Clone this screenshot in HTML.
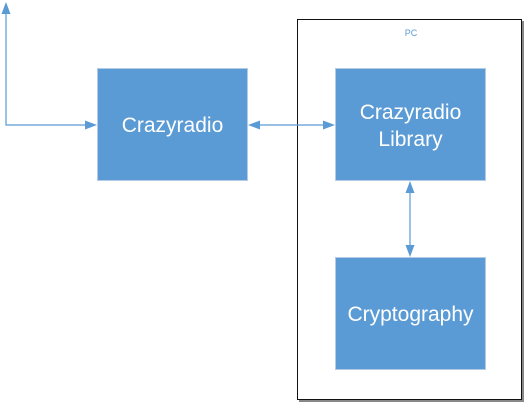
<!DOCTYPE html>
<html><head><meta charset="utf-8"><style>
html,body{margin:0;padding:0;background:#fff;width:525px;height:403px;overflow:hidden}
svg{display:block}
text{font-family:"Liberation Sans",sans-serif;fill:#fff}
</style></head><body>
<svg width="525" height="403" viewBox="0 0 525 403">
<rect x="299" y="21" width="225" height="381" fill="#888"/>
<rect x="297.5" y="19.5" width="224" height="380" fill="#fff" stroke="#111" stroke-width="1"/>
<text x="411" y="36" font-size="9" text-anchor="middle" style="fill:#5b9bd5">PC</text>
<rect x="97.5" y="68.5" width="150" height="112" fill="#5b9bd5" stroke="#b4cbe5"/>
<rect x="335.5" y="68.5" width="150" height="112" fill="#5b9bd5" stroke="#b4cbe5"/>
<rect x="335.5" y="257.5" width="150" height="112" fill="#5b9bd5" stroke="#b4cbe5"/>
<text x="172.5" y="132" font-size="21" text-anchor="middle">Crazyradio</text>
<text x="410.5" y="119" font-size="21" text-anchor="middle">Crazyradio</text>
<text x="410.5" y="146" font-size="21" text-anchor="middle">Library</text>
<text x="410.5" y="321" font-size="21" text-anchor="middle">Cryptography</text>
<g stroke="#5b9bd5" stroke-width="1.2" fill="none">
<polyline points="6,12 6,125 88,125"/>
<line x1="258" y1="125" x2="326" y2="125"/>
<line x1="410" y1="190" x2="410" y2="248"/>
</g>
<g fill="#5b9bd5">
<polygon points="6,2 1.5,14 10.5,14"/>
<polygon points="97,125 85,120.5 85,129.5"/>
<polygon points="248,125 260,120.5 260,129.5"/>
<polygon points="335,125 323,120.5 323,129.5"/>
<polygon points="410,181 405.5,193 414.5,193"/>
<polygon points="410,257 405.5,245 414.5,245"/>
</g>
</svg>
</body></html>
